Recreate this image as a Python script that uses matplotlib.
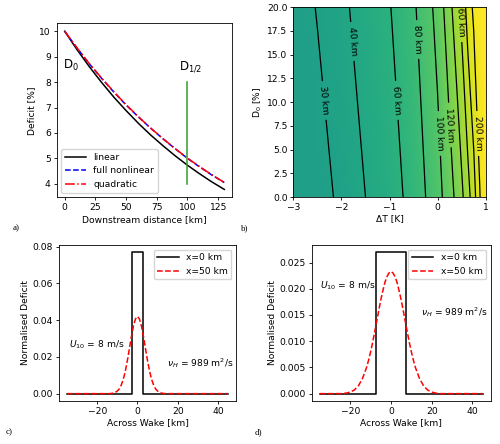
import numpy as np
import matplotlib
matplotlib.use("Agg")
import matplotlib.pyplot as plt

plt.rcParams['font.size'] = 6.6
plt.rcParams['axes.linewidth'] = 0.6
plt.rcParams['xtick.major.width'] = 0.6
plt.rcParams['ytick.major.width'] = 0.6
plt.rcParams['xtick.major.size'] = 2.2
plt.rcParams['ytick.major.size'] = 2.2
plt.rcParams['xtick.major.pad'] = 2
plt.rcParams['ytick.major.pad'] = 2

# a) deficit along the wake
dist = [0, 10, 20, 30, 40, 50, 60, 70, 80, 90, 100, 110, 120, 130]
d_linear = [10.0, 9.28, 8.61, 7.99, 7.41, 6.88, 6.38, 5.92, 5.50, 5.10, 4.73, 4.39, 4.07, 3.78]
d_nonlin = [10.0, 9.34, 8.72, 8.15, 7.61, 7.10, 6.63, 6.19, 5.77, 5.38, 5.00, 4.66, 4.34, 4.05]
d_quad = [10.0, 9.35, 8.73, 8.16, 7.62, 7.11, 6.64, 6.19, 5.78, 5.38, 5.01, 4.67, 4.35, 4.05]
half_x = 100
half_y = [4, 8]

# b) half distance [km] vs dT and D0
dT = [-3, -2.5, -2, -1.5, -1, -0.5, 0, 0.25, 0.5, 0.625, 0.75, 0.875, 1]
D0 = [0, 20]
dhalf_D0_0 = [23, 26, 32, 40, 51, 67, 93, 111, 136, 152, 172, 198, 235]
dhalf_D0_20 = [25, 30.5, 37, 46, 59, 77, 106, 134, 165, 188, 204, 230, 270]
levels = [30, 40, 60, 80, 100, 120, 140, 160, 180, 200]
label_pos = [(-2.31, 10.2), (-1.77, 16.4), (-0.82, 10.2), (-0.43, 16.6),
             (0.05, 6.7), (0.28, 7.6), (0.5, 18.7), (0.85, 6.7)]

# c) narrow wake, d) wide wake
rect_c_x = [-35, -2.6, -2.6, 2.6, 2.6, 45]
rect_c_y = [0, 0, 0.077, 0.077, 0, 0]
gauss_c_x = [-35, -14, -13, -12, -11, -10, -9, -8, -7, -6, -5, -4, -3, -2, -1, 0,
             1, 2, 3, 4, 5, 6, 7, 8, 9, 10, 11, 12, 13, 14, 45]
gauss_c_y = [0, 0, 0.0001, 0.0003, 0.0007, 0.0014, 0.0026, 0.0048, 0.0079, 0.0124,
             0.0180, 0.0245, 0.0310, 0.0367, 0.0406, 0.0420,
             0.0406, 0.0367, 0.0310, 0.0245, 0.0180, 0.0124, 0.0079, 0.0048,
             0.0026, 0.0014, 0.0007, 0.0003, 0.0001, 0, 0]

rect_d_x = [-35, -7.5, -7.5, 7.5, 7.5, 45]
rect_d_y = [0, 0, 0.027, 0.027, 0, 0]
gauss_d_x = [-35, -24, -22, -20, -18, -16, -14, -12, -11, -10, -9, -8, -7, -6, -5, -4,
             -3, -2, -1, 0, 1, 2, 3, 4, 5, 6, 7, 8, 9, 10, 11, 12, 14, 16, 18, 20,
             22, 24, 45]
gauss_d_y = [0, 0, 0.0001, 0.0003, 0.0007, 0.0015, 0.0029, 0.0050, 0.0064, 0.0080,
             0.0098, 0.0118, 0.0138, 0.0159, 0.0179, 0.0196, 0.0212, 0.0223, 0.0230,
             0.0233, 0.0230, 0.0223, 0.0212, 0.0196, 0.0179, 0.0159, 0.0138, 0.0118,
             0.0098, 0.0080, 0.0064, 0.0050, 0.0029, 0.0015, 0.0007, 0.0003, 0.0001,
             0, 0]

fig = plt.figure(figsize=(5, 4.44), dpi=100)
ax_a = fig.add_axes([0.1134, 0.5556, 0.3512, 0.3919])
ax_b = fig.add_axes([0.5867, 0.5563, 0.3848, 0.4273])
ax_c = fig.add_axes([0.118, 0.0975, 0.354, 0.3507])
ax_d = fig.add_axes([0.6233, 0.0975, 0.358, 0.3507])

# panel a
ax_a.plot(dist, d_linear, color="k", lw=1.1, label="linear")
ax_a.plot(dist, d_nonlin, color="b", lw=1.1, ls="--", label="full nonlinear")
ax_a.plot(dist, d_quad, color="r", lw=1.1, ls="-.", label="quadratic")
ax_a.plot([half_x, half_x], half_y, color="#2ca02c", lw=1.1)
ax_a.text(-1.5, 8.5, "D$_0$", fontsize=8.5)
ax_a.text(93, 8.5, "D$_{1/2}$", fontsize=8.5)
ax_a.set_xticks([0, 25, 50, 75, 100, 125])
ax_a.set_xlabel("Downstream distance [km]", labelpad=2)
ax_a.set_ylabel("Deficit [%]", labelpad=2)
ax_a.legend(loc="lower left", handlelength=2.3)

# panel b
Z = np.array([dhalf_D0_0, dhalf_D0_20])
ax_b.pcolormesh(dT, D0, Z, shading="gouraud", cmap="viridis", vmin=-210, vmax=210)
cs = ax_b.contour(dT, D0, Z, levels=levels, colors="k", linewidths=0.9)
ax_b.clabel(cs, fmt="%d km", fontsize=6.6, manual=label_pos)
ax_b.set_xlim(-3, 1)
ax_b.set_ylim(0, 20)
ax_b.set_yticks(np.arange(0, 20.1, 2.5))
ax_b.set_xlabel("ΔT [K]", labelpad=2)
ax_b.set_ylabel("D$_0$ [%]", labelpad=2)

# panels c and d
for ax, rx, ry, gx, gy, yt, fmt, u_pos, nu_pos in [
        (ax_c, rect_c_x, rect_c_y, gauss_c_x, gauss_c_y,
         [0, 0.02, 0.04, 0.06, 0.08], "%.2f", (0.055, 0.36), (0.985, 0.24)),
        (ax_d, rect_d_x, rect_d_y, gauss_d_x, gauss_d_y,
         [0, 0.005, 0.01, 0.015, 0.02, 0.025], "%.3f", (0.045, 0.74), (0.985, 0.57))]:
    ax.plot(rx, ry, color="k", lw=1.1, label="x=0 km")
    ax.plot(gx, gy, color="r", lw=1.1, ls="--", label="x=50 km")
    ax.set_xticks([-20, 0, 20, 40])
    ax.set_yticks(yt)
    ax.yaxis.set_major_formatter(matplotlib.ticker.FormatStrFormatter(fmt))
    ax.set_xlabel("Across Wake [km]", labelpad=2)
    ax.set_ylabel("Normalised Deficit", labelpad=2)
    ax.legend(loc="upper right", handlelength=2.3)
    ax.text(u_pos[0], u_pos[1], "$U_{10}$ = 8 m/s", transform=ax.transAxes, va="center")
    ax.text(nu_pos[0], nu_pos[1], "$\\nu_H$ = 989 m$^2$/s", transform=ax.transAxes,
            va="center", ha="right")

for lab, x, y in [("a)", 0.026, 0.482), ("b)", 0.482, 0.482), ("c)", 0.012, 0.022), ("d)", 0.51, 0.022)]:
    fig.text(x, y, lab, family="Liberation Serif", fontsize=6.5)

fig.savefig("out.png", dpi=100)
